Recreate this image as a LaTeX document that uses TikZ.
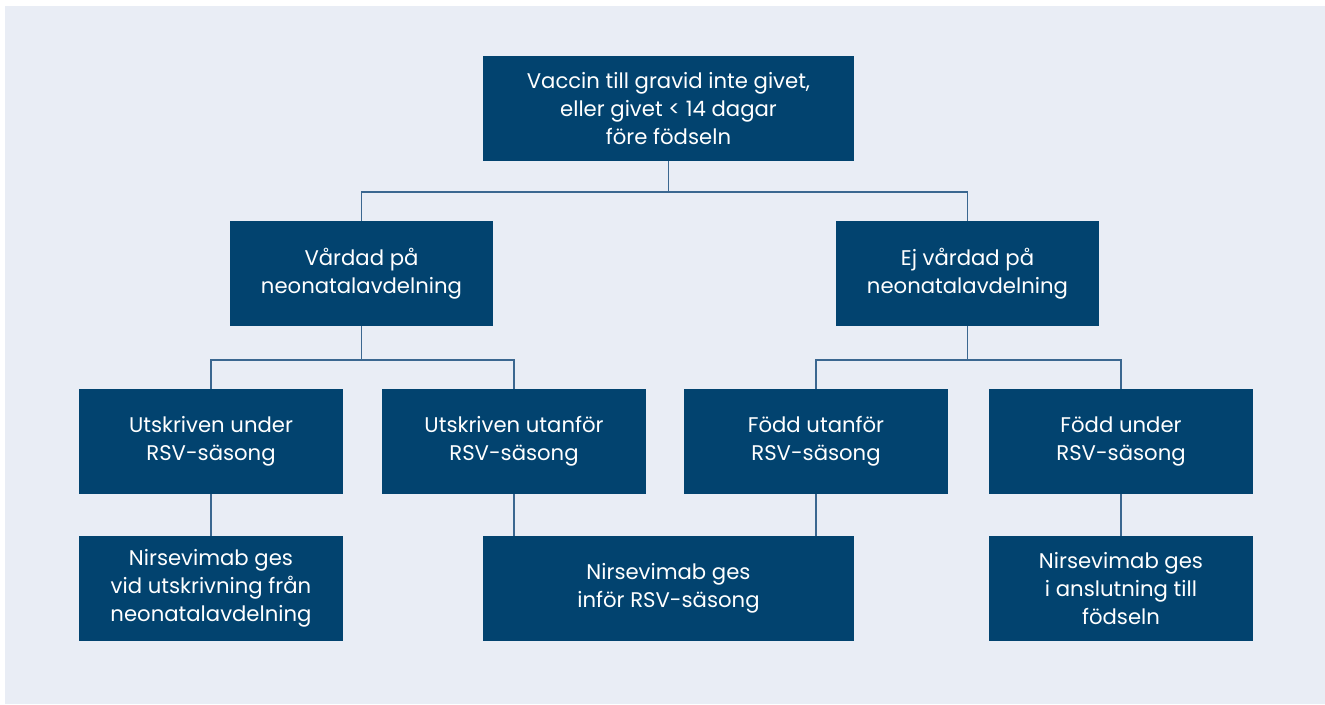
\documentclass[tikz,border=0pt]{standalone}
\usepackage{fontspec}
\setmainfont{Poppins}
\definecolor{bg}{HTML}{E9EDF5}
\definecolor{boxc}{HTML}{02436F}
\definecolor{linec}{HTML}{3B6790}
\begin{document}
\begin{tikzpicture}[x=1pt,y=-1pt,
  box/.style={fill=boxc, text=white, inner sep=0pt, minimum height=105pt,
    align=center, font=\fontsize{21.2}{28}\selectfont},
  wbox/.style={box, minimum width=371pt},
  mbox/.style={box, minimum width=263pt},
  sbox/.style={box, minimum width=264pt},
  conn/.style={draw=linec, line width=1.5pt}]
\useasboundingbox (0,0) rectangle (1325,704);
\fill[white] (0,0) rectangle (1325,704);
\fill[bg] (5,6) rectangle (1325,704);
% nodes
\node[wbox] (top) at (668.5,108.5) {Vaccin till gravid inte givet,\\eller givet < 14 dagar\\före födseln};
\node[mbox] (l2a) at (361.5,273.5) {Vårdad på\\neonatalavdelning};
\node[mbox] (l2b) at (967.5,273.5) {Ej vårdad på\\neonatalavdelning};
\node[sbox] (b1) at (211,441.5) {Utskriven under\\RSV-säsong};
\node[sbox] (b2) at (514,441.5) {Utskriven utanför\\RSV-säsong};
\node[sbox] (b3) at (816,441.5) {Född utanför\\RSV-säsong};
\node[sbox] (b4) at (1121,441.5) {Född under\\RSV-säsong};
\node[sbox] (c1) at (211,588.5) {Nirsevimab ges\\vid utskrivning från\\neonatalavdelning};
\node[wbox] (c2) at (668.5,588.5) {Nirsevimab ges\\inför RSV-säsong};
\node[sbox] (c3) at (1121,588.5) {Nirsevimab ges\\i anslutning till\\födseln};
% junctions
\coordinate (j1) at (668.5,192);
\coordinate (j2) at (361.5,360);
\coordinate (j3) at (967.5,360);
% connectors
\path[conn] (top.south) -- (j1);
\path[conn] (l2a.north) |- (j1) -| (l2b.north);
\path[conn] (l2a.south) -- (j2);
\path[conn] (b1.north) |- (j2) -| (b2.north);
\path[conn] (l2b.south) -- (j3);
\path[conn] (b3.north) |- (j3) -| (b4.north);
\path[conn] (b1.south) -- (c1.north);
\path[conn] (b2.south) -- (b2.south |- c2.north);
\path[conn] (b3.south) -- (b3.south |- c2.north);
\path[conn] (b4.south) -- (c3.north);
\end{tikzpicture}
\end{document}
